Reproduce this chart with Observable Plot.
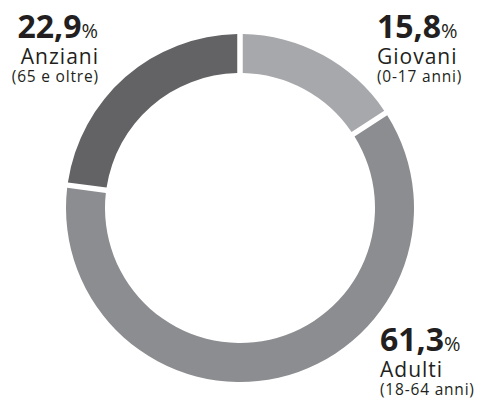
<!DOCTYPE html>
<html><head><meta charset="utf-8">
<script src="https://cdn.jsdelivr.net/npm/d3@7"></script>
<script src="https://cdn.jsdelivr.net/npm/@observablehq/plot@0.6"></script>
<style>body{margin:0;background:#fff}</style>
</head><body><div id="chart"></div>
<script>
const categories = ["Giovani", "Adulti", "Anziani"];
const subLabels = ["(0-17 anni)", "(18-64 anni)", "(65 e oltre)"];
const values = [15.8, 61.3, 22.9];
const valueLabels = ["15,8", "61,3", "22,9"];
const colors = ["#a7a8ab", "#8c8d90", "#636365"];

const data = categories.map((c, i) => ({category: c, sub: subLabels[i], value: values[i], label: valueLabels[i]}));
const color = Plot.scale({color: {type: "ordinal", domain: categories, range: colors}});
const FONT = "'Open Sans', Lato, sans-serif";

const labelPos = {
  Giovani: {x: 377, y: 38, anchor: "start"},
  Adulti: {x: 380, y: 351, anchor: "start"},
  Anziani: {x: 98, y: 38, anchor: "end"}
};

function donut(index, scales, values_, dims) {
  const g = d3.create("svg:g");
  const cx = 240, cy = 208, ro = 174, ri = 135;
  const pie = d3.pie().sort(null).value(d => d.value);
  const arc = d3.arc().innerRadius(ri).outerRadius(ro).padRadius(ro).padAngle(5.5 / ro);
  g.append("g").attr("transform", `translate(${cx},${cy})`)
    .selectAll("path").data(pie(data)).join("path")
    .attr("d", arc).attr("fill", d => color.apply(d.data.category));
  const lab = g.append("g").attr("fill", "#231f20").attr("font-family", FONT);
  for (const d of data) {
    const p = labelPos[d.category];
    const end = p.anchor === "end";
    const t = lab.append("text").attr("x", p.x).attr("y", p.y).attr("text-anchor", p.anchor);
    t.append("tspan").attr("font-size", 32).attr("font-weight", 700).text(d.label);
    t.append("tspan").attr("font-size", 20).attr("font-weight", 400).text("%");
    lab.append("text").attr("x", p.x + (end ? 1 : 0)).attr("y", p.y + 26).attr("text-anchor", p.anchor)
      .attr("font-size", 21).attr("letter-spacing", 1).text(d.category);
    lab.append("text").attr("x", p.x + (end ? 0.8 : 0)).attr("y", p.y + 44).attr("text-anchor", p.anchor)
      .attr("font-size", 15.5).attr("letter-spacing", 0.8).text(d.sub);
  }
  return g.node();
}

const chart = Plot.plot({
  width: 478, height: 401,
  margin: 0,
  style: {background: "#fff"},
  marks: [donut]
});
document.getElementById("chart").append(chart);
</script></body></html>
